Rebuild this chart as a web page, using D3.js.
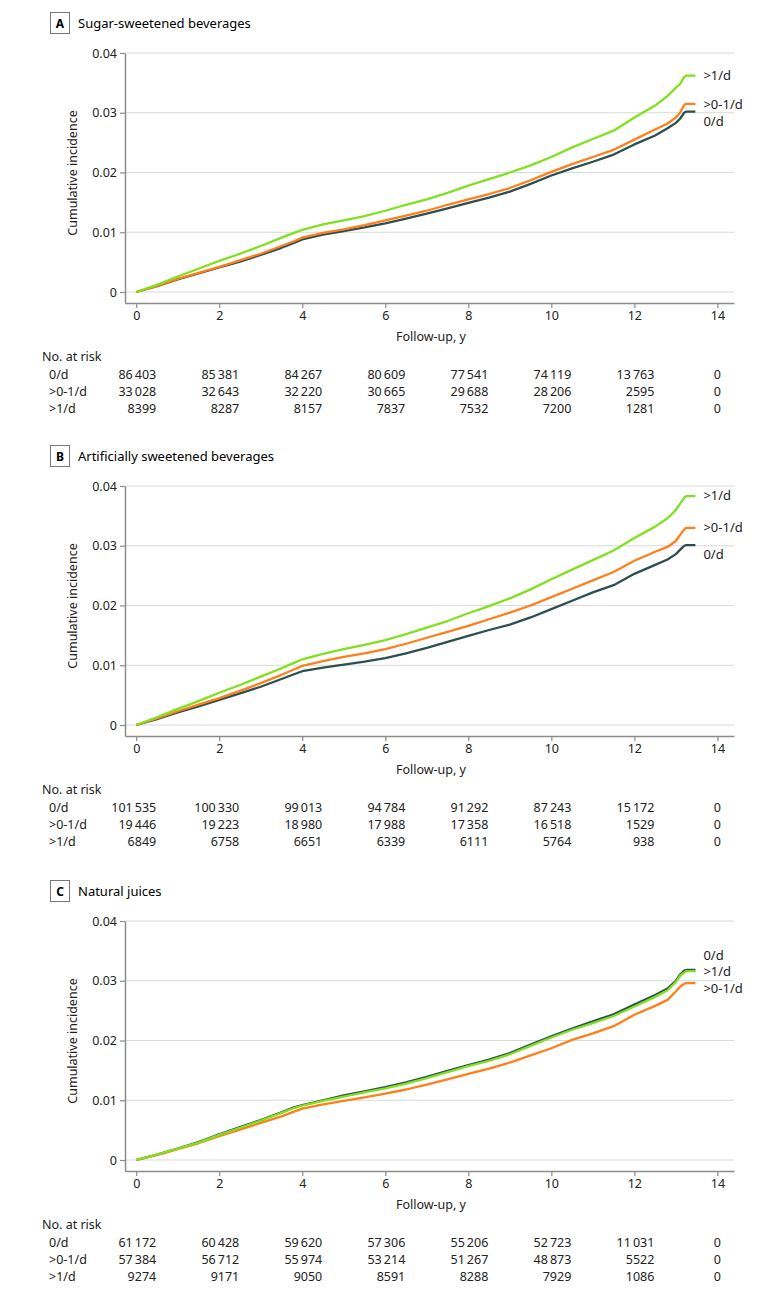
<!DOCTYPE html>
<html>
<head>
<meta charset="utf-8">
<script src="https://cdn.jsdelivr.net/npm/d3@7"></script>
<style>
  body { margin: 0; background: #fff; }
  svg { font-family: "Noto Sans", sans-serif; }
</style>
</head>
<body>
<div id="chart-area"></div>
<script>
// follow-up times (years) where curves were read
var times = [0, 0.5, 1, 1.5, 2, 2.5, 3, 3.5, 3.8, 4, 4.5, 5, 5.5, 6, 6.5, 7, 7.5, 8, 8.5, 9, 9.5, 10, 10.5, 11, 11.5, 12, 12.5, 12.8, 13, 13.1, 13.2, 13.25, 13.47];

// A: sugar-sweetened beverages
var ssbNone = [0, 0.0010, 0.0021, 0.0031, 0.0041, 0.0051, 0.0062, 0.0074, 0.0082, 0.0088, 0.0096, 0.0102, 0.0108, 0.0115, 0.0123, 0.0131, 0.0140, 0.0149, 0.0158, 0.0168, 0.0181, 0.0195, 0.0207, 0.0218, 0.0230, 0.0247, 0.0262, 0.0274, 0.0283, 0.0290, 0.0300, 0.0302, 0.0302];
var ssbLow  = [0, 0.0010, 0.0022, 0.0032, 0.0042, 0.0053, 0.0064, 0.0077, 0.0085, 0.0091, 0.0099, 0.0105, 0.0112, 0.0120, 0.0128, 0.0136, 0.0146, 0.0155, 0.0164, 0.0174, 0.0187, 0.0201, 0.0214, 0.0226, 0.0238, 0.0255, 0.0272, 0.0282, 0.0292, 0.0300, 0.0313, 0.0315, 0.0315];
var ssbHigh = [0, 0.0012, 0.0026, 0.0039, 0.0052, 0.0064, 0.0077, 0.0091, 0.0099, 0.0104, 0.0113, 0.0120, 0.0127, 0.0136, 0.0146, 0.0155, 0.0166, 0.0178, 0.0189, 0.0200, 0.0212, 0.0226, 0.0242, 0.0256, 0.0270, 0.0292, 0.0312, 0.0328, 0.0342, 0.0348, 0.0360, 0.0362, 0.0362];

// B: artificially sweetened beverages
var asbNone = [0, 0.0010, 0.0021, 0.0031, 0.0042, 0.0053, 0.0064, 0.0077, 0.0085, 0.0090, 0.0096, 0.0101, 0.0106, 0.0112, 0.0120, 0.0129, 0.0139, 0.0149, 0.0159, 0.0168, 0.0180, 0.0194, 0.0208, 0.0222, 0.0234, 0.0253, 0.0268, 0.0277, 0.0286, 0.0293, 0.0300, 0.0301, 0.0301];
var asbLow  = [0, 0.0011, 0.0023, 0.0034, 0.0045, 0.0057, 0.0070, 0.0084, 0.0093, 0.0099, 0.0107, 0.0114, 0.0120, 0.0127, 0.0136, 0.0146, 0.0156, 0.0166, 0.0177, 0.0188, 0.0200, 0.0214, 0.0228, 0.0242, 0.0256, 0.0275, 0.0290, 0.0298, 0.0308, 0.0318, 0.0327, 0.0330, 0.0330];
var asbHigh = [0, 0.0013, 0.0027, 0.0040, 0.0054, 0.0067, 0.0081, 0.0095, 0.0104, 0.0110, 0.0119, 0.0127, 0.0134, 0.0142, 0.0152, 0.0163, 0.0174, 0.0187, 0.0199, 0.0212, 0.0227, 0.0244, 0.0260, 0.0276, 0.0292, 0.0313, 0.0332, 0.0346, 0.0360, 0.0370, 0.0380, 0.0383, 0.0383];

// C: natural juices
var njNone = [0, 0.0009, 0.0019, 0.0030, 0.0043, 0.0055, 0.0067, 0.0080, 0.0088, 0.0092, 0.0100, 0.0108, 0.0115, 0.0122, 0.0130, 0.0139, 0.0149, 0.0159, 0.0168, 0.0179, 0.0193, 0.0207, 0.0220, 0.0232, 0.0244, 0.0260, 0.0276, 0.0287, 0.0300, 0.0310, 0.0317, 0.0318, 0.0318];
var njLow  = [0, 0.0008, 0.0018, 0.0028, 0.0040, 0.0051, 0.0062, 0.0073, 0.0081, 0.0086, 0.0093, 0.0099, 0.0105, 0.0111, 0.0118, 0.0126, 0.0135, 0.0144, 0.0153, 0.0163, 0.0175, 0.0187, 0.0201, 0.0212, 0.0224, 0.0243, 0.0258, 0.0268, 0.0282, 0.0290, 0.0295, 0.0296, 0.0296];
var njHigh = [0, 0.0009, 0.0019, 0.0029, 0.0042, 0.0054, 0.0066, 0.0079, 0.0087, 0.0091, 0.0099, 0.0106, 0.0113, 0.0120, 0.0128, 0.0137, 0.0147, 0.0157, 0.0166, 0.0177, 0.0191, 0.0205, 0.0218, 0.0229, 0.0241, 0.0257, 0.0273, 0.0284, 0.0298, 0.0308, 0.0314, 0.0316, 0.0316];

// number at risk
var riskTimes = [0, 2, 4, 6, 8, 10, 12, 14];
var groupLabels = ["0/d", ">0-1/d", ">1/d"];
var ssbRisk = [
    [86403, 85381, 84267, 80609, 77541, 74119, 13763, 0],
    [33028, 32643, 32220, 30665, 29688, 28206, 2595, 0],
    [8399, 8287, 8157, 7837, 7532, 7200, 1281, 0]
];
var asbRisk = [
    [101535, 100330, 99013, 94784, 91292, 87243, 15172, 0],
    [19446, 19223, 18980, 17988, 17358, 16518, 1529, 0],
    [6849, 6758, 6651, 6339, 6111, 5764, 938, 0]
];
var njRisk = [
    [61172, 60428, 59620, 57306, 55206, 52723, 11031, 0],
    [57384, 56712, 55974, 53214, 51267, 48873, 5522, 0],
    [9274, 9171, 9050, 8591, 8288, 7929, 1086, 0]
];

var yTicks = [0, 0.01, 0.02, 0.03, 0.04];
var xTicks = [0, 2, 4, 6, 8, 10, 12, 14];

var colors = ["#2c4f4f", "#ff7f1a", "#80e21e"];

var panels = [
    {letter: "A", title: "Sugar-sweetened beverages", top: 53, series: [ssbNone, ssbLow, ssbHigh], risk: ssbRisk, labelDy: [14, 5, 4]},
    {letter: "B", title: "Artificially sweetened beverages", top: 486, series: [asbNone, asbLow, asbHigh], risk: asbRisk, labelDy: [14, 4, 4]},
    {letter: "C", title: "Natural juices", top: 921, series: [njNone, njLow, njHigh], risk: njRisk, labelDy: [-10, 10, 5]}
];

var svg = d3.select("#chart-area").append("svg")
    .attr("width", 780)
    .attr("height", 1295);

var left = 125, plotW = 609, plotH = 250;

var x = d3.scaleLinear().domain([-0.27, 14.4]).range([0, plotW]);
var y = d3.scaleLinear().domain([-0.00184, 0.04]).range([plotH, 0]);

var line = d3.line()
    .x(function(d) { return x(d[0]); })
    .y(function(d) { return y(d[1]); });

function fmtRisk(n) {
    if (n >= 10000) return d3.format(",")(n).replace(/,/g, "\u2009");
    return String(n);
}

panels.forEach(function(p) {
    var g = svg.append("g")
        .attr("transform", "translate(" + left + "," + p.top + ")");

    // panel header
    svg.append("rect")
        .attr("x", 50.5).attr("y", p.top - 40.5)
        .attr("width", 19).attr("height", 21)
        .attr("fill", "#fff").attr("stroke", "#777").attr("stroke-width", 1);
    svg.append("text")
        .attr("x", 60).attr("y", p.top - 25)
        .attr("text-anchor", "middle")
        .style("font-size", "12px").style("font-weight", "bold")
        .text(p.letter);
    svg.append("text")
        .attr("x", 78).attr("y", p.top - 25)
        .style("font-size", "13px")
        .text(p.title);

    // gridlines
    g.selectAll(".grid")
        .data(yTicks).enter()
        .append("line")
        .attr("x1", 0).attr("x2", plotW)
        .attr("y1", function(d) { return y(d); })
        .attr("y2", function(d) { return y(d); })
        .attr("stroke", "#d9d9d9").attr("stroke-width", 1);

    // axes
    var yAxis = g.append("g")
        .call(d3.axisLeft(y).tickValues(yTicks).tickSize(5).tickSizeOuter(0)
            .tickFormat(function(d) { return d === 0 ? "0" : d3.format(".2f")(d); }));
    var xAxis = g.append("g")
        .attr("transform", "translate(0," + plotH + ")")
        .call(d3.axisBottom(x).tickValues(xTicks).tickSize(5).tickSizeOuter(0));
    [yAxis, xAxis].forEach(function(a) {
        a.select(".domain").attr("stroke", "#8c8c8c").attr("stroke-width", 1.5);
        a.selectAll(".tick line").attr("stroke", "#8c8c8c").attr("stroke-width", 1.2);
        a.selectAll(".tick text")
            .style("font-family", "Noto Sans, sans-serif")
            .style("font-size", "12.5px").attr("fill", "#222");
    });
    xAxis.selectAll(".tick text").attr("dy", "0.71em").attr("y", 8);

    g.append("text")
        .attr("transform", "translate(-48," + (plotH / 2 - 5) + ") rotate(-90)")
        .attr("text-anchor", "middle")
        .style("font-size", "12.5px").attr("fill", "#222")
        .text("Cumulative incidence");

    g.append("text")
        .attr("x", x(7.1)).attr("y", 288)
        .attr("text-anchor", "middle")
        .style("font-size", "12.5px").attr("fill", "#222")
        .text("Follow-up, y");

    // curves
    p.series.forEach(function(vals, i) {
        var pts = times.map(function(t, k) { return [t, vals[k]]; });
        g.append("path")
            .attr("d", line(pts))
            .attr("fill", "none")
            .attr("stroke", colors[i])
            .attr("stroke-width", 2.3)
            .attr("stroke-linejoin", "round");
        var last = pts[pts.length - 1];
        g.append("text")
            .attr("x", x(last[0]) + 8)
            .attr("y", y(last[1]) + p.labelDy[i])
            .style("font-size", "13px").attr("fill", "#222")
            .text(groupLabels[i]);
    });

    // number at risk table
    var t = g.append("g").attr("transform", "translate(0," + 308 + ")");
    t.append("text")
        .attr("x", 42 - left).attr("y", 0)
        .style("font-size", "12.5px").attr("fill", "#222")
        .text("No. at risk");
    p.risk.forEach(function(row, r) {
        var ry = 18 + r * 17;
        t.append("text")
            .attr("x", 49 - left).attr("y", ry)
            .style("font-size", "12.5px").attr("fill", "#222")
            .text(groupLabels[r]);
        t.selectAll(".n" + r)
            .data(row).enter()
            .append("text")
            .attr("x", function(d, k) { return d === 0 ? x(riskTimes[k]) : x(riskTimes[k]) + 20; })
            .attr("y", ry)
            .attr("text-anchor", function(d) { return d === 0 ? "middle" : "end"; })
            .style("font-size", "12.5px").attr("fill", "#222")
            .text(fmtRisk);
    });
});
</script>
</body>
</html>
